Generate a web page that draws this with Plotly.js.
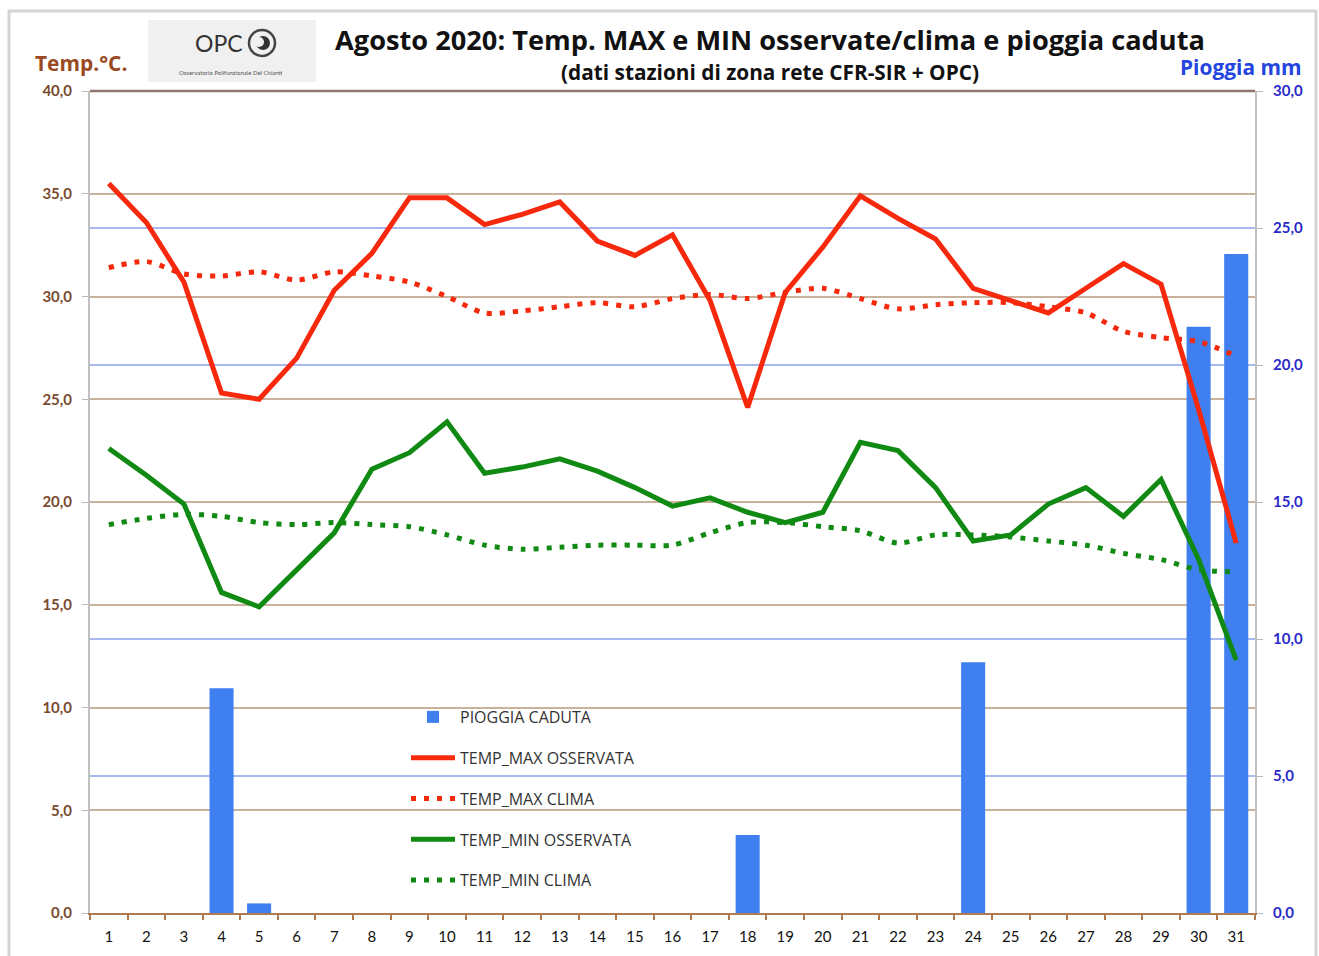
<!DOCTYPE html>
<html>
<head>
<meta charset="utf-8">
<script src="https://cdn.plot.ly/plotly-3.0.1.min.js"></script>
<style>
  html, body { margin: 0; padding: 0; background: #ffffff; }
  #chart { width: 1319px; height: 956px; }
</style>
</head>
<body>
<div id="chart"></div>
<script>
const days = ['1','2','3','4','5','6','7','8','9','10','11','12','13','14','15','16','17','18','19','20','21','22','23','24','25','26','27','28','29','30','31'];

const pioggiaCaduta = [0,0,0,8.2,0.35,0,0,0,0,0,0,0,0,0,0,0,0,2.85,0,0,0,0,0,9.15,0,0,0,0,0,21.4,24.05];

const tempMaxOss = [35.5,33.6,30.7,25.3,25.0,27.0,30.3,32.1,34.8,34.8,33.5,34.0,34.6,32.7,32.0,33.0,29.8,24.6,30.2,32.4,34.9,33.8,32.8,30.4,29.8,29.2,30.4,31.6,30.6,24.5,18.0];

const tempMaxClima = [31.4,31.7,31.1,31.0,31.2,30.8,31.2,31.0,30.7,30.0,29.2,29.3,29.5,29.7,29.5,29.9,30.1,29.9,30.2,30.4,29.9,29.4,29.6,29.7,29.7,29.5,29.2,28.3,28.0,27.8,27.1];

const tempMinOss = [22.6,21.3,19.9,15.6,14.9,16.7,18.5,21.6,22.4,23.9,21.4,21.7,22.1,21.5,20.7,19.8,20.2,19.5,19.0,19.5,22.9,22.5,20.7,18.1,18.4,19.9,20.7,19.3,21.1,17.2,12.3];

const tempMinClima = [18.9,19.2,19.4,19.3,19.0,18.9,19.0,18.9,18.8,18.4,17.9,17.7,17.8,17.9,17.9,17.9,18.5,19.0,19.0,18.8,18.6,18.0,18.4,18.4,18.3,18.1,17.9,17.5,17.2,16.7,16.6];

const seriesNames = ['PIOGGIA CADUTA','TEMP_MAX OSSERVATA','TEMP_MAX CLIMA','TEMP_MIN OSSERVATA','TEMP_MIN CLIMA'];

const FONT = 'Lato, "Open Sans", sans-serif';
const TFONT = '"Open Sans", Lato, sans-serif';
const RED = '#f7290d';
const GREEN = '#118a14';
const BLUE = '#3f7ff0';

const traces = [
  { type: 'bar', x: days, y: pioggiaCaduta, name: seriesNames[0], yaxis: 'y',
    marker: { color: BLUE }, legendgroup: 'a' },
  { type: 'scatter', mode: 'lines', x: days, y: tempMaxOss, name: seriesNames[1], yaxis: 'y2',
    line: { color: RED, width: 5 }, legendgroup: 'b' },
  { type: 'scatter', mode: 'lines', x: days, y: tempMaxClima, name: seriesNames[2], yaxis: 'y2',
    line: { color: RED, width: 5, dash: '5px,8px', shape: 'spline', smoothing: 0.8 }, legendgroup: 'c' },
  { type: 'scatter', mode: 'lines', x: days, y: tempMinOss, name: seriesNames[3], yaxis: 'y2',
    line: { color: GREEN, width: 5 }, legendgroup: 'd' },
  { type: 'scatter', mode: 'lines', x: days, y: tempMinClima, name: seriesNames[4], yaxis: 'y2',
    line: { color: GREEN, width: 5, dash: '5px,8px', shape: 'spline', smoothing: 0.8 }, legendgroup: 'e' }
];

const L = 90, R = 1255, T = 91, B = 913;
const px = v => (v - L) / (R - L);
const py = v => (B - v) / (B - T);

const layout = {
  width: 1319, height: 956,
  margin: { l: L, r: 1319 - R, t: T, b: 956 - B, pad: 0 },
  paper_bgcolor: '#ffffff', plot_bgcolor: '#ffffff',
  separators: ',.',
  font: { family: FONT, size: 14, color: '#222' },
  showlegend: true,
  bargap: 0.36,
  title: { text: '<b>Agosto 2020: Temp. MAX e MIN osservate/clima e pioggia caduta</b>',
           x: 770 / 1319, xanchor: 'center', y: 1 - 40 / 956, yanchor: 'middle',
           font: { family: TFONT, size: 27.2, color: '#111' } },
  legend: { x: px(406), y: py(700), xanchor: 'left', yanchor: 'top',
            bgcolor: 'rgba(0,0,0,0)', font: { family: TFONT, size: 16, color: '#333' },
            traceorder: 'grouped', tracegroupgap: 17, itemwidth: 44 },
  xaxis: { type: 'category', range: [-0.5, 30.5], showgrid: false,
           tickson: 'boundaries', ticks: 'outside', ticklen: 5, tickcolor: '#b07a50', tickwidth: 2,
           ticklabelstandoff: 9,
           showline: true, linecolor: '#b07a50', linewidth: 2,
           tickfont: { family: FONT, size: 15, color: '#111' } },
  yaxis: { range: [0, 30], dtick: 5, tickformat: '.1f', side: 'right',
           showgrid: true, gridcolor: '#a9b9ef', gridwidth: 2, zeroline: false,
           ticks: 'outside', ticklen: 6, tickcolor: '#b8b8b8', ticklabelstandoff: 7,
           showline: true, linecolor: '#c0c0c0', linewidth: 2,
           tickfont: { family: FONT, size: 15, color: '#2a2ac8', weight: 'bold' } },
  yaxis2: { range: [0, 40], dtick: 5, tickformat: '.1f', side: 'left', overlaying: 'y',
            showgrid: true, gridcolor: '#c9b29c', gridwidth: 2, zeroline: false,
            ticks: 'outside', ticklen: 6, tickcolor: '#b8b8b8', ticklabelstandoff: 7,
            showline: true, linecolor: '#c0c0c0', linewidth: 2,
            tickfont: { family: FONT, size: 15, color: '#7a4a30', weight: 'bold' } },
  shapes: [
    { type: 'rect', xref: 'paper', yref: 'paper', x0: px(9), x1: px(1316), y0: py(960), y1: py(11),
      line: { color: '#d4d4d4', width: 3 }, fillcolor: 'rgba(0,0,0,0)', layer: 'below' },
    { type: 'rect', xref: 'paper', yref: 'paper', x0: px(148), x1: px(316), y0: py(82), y1: py(20),
      line: { width: 0 }, fillcolor: '#f0f0f0', layer: 'below' },
    { type: 'circle', xref: 'paper', yref: 'paper', x0: px(249), x1: px(275), y0: py(56), y1: py(30),
      line: { color: '#444', width: 2.5 }, fillcolor: 'rgba(0,0,0,0)' },
    { type: 'circle', xref: 'paper', yref: 'paper', x0: px(256), x1: px(270), y0: py(50), y1: py(36),
      line: { width: 0 }, fillcolor: '#333' },
    { type: 'circle', xref: 'paper', yref: 'paper', x0: px(254), x1: px(264), y0: py(47), y1: py(37),
      line: { width: 0 }, fillcolor: '#f0f0f0' },
    { type: 'line', xref: 'paper', yref: 'paper', x0: 0, x1: 1, y0: 1, y1: 1,
      line: { color: '#8f7770', width: 2.5 } }
  ],
  annotations: [
    { text: '<b>(dati stazioni di zona rete CFR-SIR + OPC)</b>', xref: 'paper', yref: 'paper',
      x: px(770), y: py(72), xanchor: 'center', yanchor: 'middle', showarrow: false,
      font: { family: TFONT, size: 20.8, color: '#111' } },
    { text: '<b>Temp.°C.</b>', xref: 'paper', yref: 'paper',
      x: px(81), y: py(63), xanchor: 'center', yanchor: 'middle', showarrow: false,
      font: { family: TFONT, size: 20.9, color: '#9a4a22' } },
    { text: '<b>Pioggia mm</b>', xref: 'paper', yref: 'paper',
      x: px(1240), y: py(67), xanchor: 'center', yanchor: 'middle', showarrow: false,
      font: { family: TFONT, size: 20.9, color: '#2545e0' } },
    { text: 'OPC', xref: 'paper', yref: 'paper',
      x: px(219), y: py(43), xanchor: 'center', yanchor: 'middle', showarrow: false,
      font: { family: FONT, size: 23, color: '#333' } },
    { text: 'Osservatorio Polifunzionale Del Chianti', xref: 'paper', yref: 'paper',
      x: px(231), y: py(72), xanchor: 'center', yanchor: 'middle', showarrow: false,
      font: { family: FONT, size: 6, color: '#555' } }
  ]
};

Plotly.newPlot('chart', traces, layout, { displayModeBar: false, staticPlot: true });
</script>
</body>
</html>
